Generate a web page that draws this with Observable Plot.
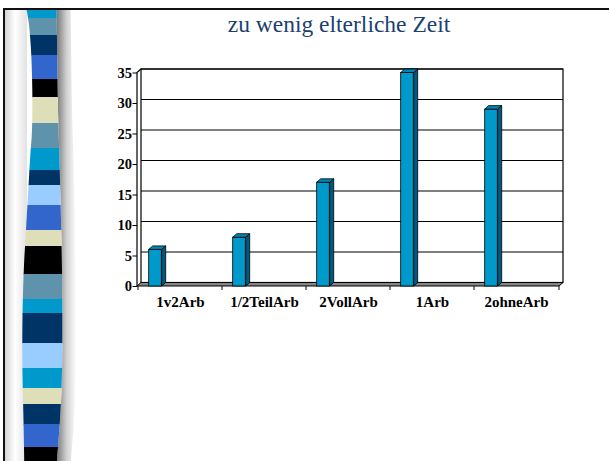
<!DOCTYPE html>
<html>
<head>
<meta charset="utf-8">
<script src="https://cdn.jsdelivr.net/npm/d3@7"></script>
<script src="https://cdn.jsdelivr.net/npm/@observablehq/plot@0.6"></script>
<style>
  html, body { margin: 0; padding: 0; background: #fff; overflow: hidden; width: 609px; height: 461px; }
  #slide { position: relative; width: 609px; height: 461px; overflow: hidden; background: #fff; }
  #frame { position: absolute; left: 3px; top: 8px; width: 640px; height: 480px; border-left: 2px solid #111; border-top: 2px solid #111; }
  #deco { position: absolute; left: 0; top: 0; }
  #chart { position: absolute; left: 0; top: 0; width: 609px; height: 461px; overflow: hidden; }
  #chart svg { display: block; background: transparent; }
  #title { position: absolute; left: 139px; width: 400px; top: 13.3px; text-align: center;
           font-family: 'Liberation Serif', 'Times New Roman', serif; font-size: 23.5px; line-height: 1;
           color: #1b3f70; white-space: nowrap; }
  #cover { position: absolute; left: 598px; top: 11px; width: 20px; height: 470px; background: #fff; }
</style>
</head>
<body>
<div id="slide">
  <div id="frame"></div>
  <svg id="deco" width="80" height="461"></svg>
  <div id="chart"></div>
  <div id="title">zu wenig elterliche Zeit</div>
  <div id="cover"></div>
</div>
<script>
// ---- chart data ----
const categories = ["1v2Arb", "1/2TeilArb", "2VollArb", "1Arb", "2ohneArb"];
const values = [6, 8, 17, 35, 29];
const yTicks = [0, 5, 10, 15, 20, 25, 30, 35];
const data = categories.map((cat, i) => ({cat, value: values[i]}));

// ---- slide decoration (left stripe) ----
const stripeColors = ["#0099cc", "#5f93ab", "#003366", "#3366cc", "#000000", "#dedeb8", "#5f93ab", "#0099cc",
  "#003366", "#99ccff", "#3366cc", "#dedeb8", "#000000", "#5f93ab", "#0099cc", "#003366", "#99ccff",
  "#0099cc", "#dedeb8", "#003366", "#3366cc", "#000000"];
const stripeBreaks = [10, 18, 35, 55, 79, 97, 123, 148, 170, 185, 205, 230, 246, 274, 299, 313, 343, 368, 388, 404, 424, 447, 461];
const stripeLeft = [[26.7,10],[29,25],[31,50],[32.3,90],[32,130],[30,160],[28,195],[26,230],[24,265],[22.7,305],[22.3,350],[22.7,385],[23.5,420],[24.3,461]];
const stripeRight = [[56.7,10],[57.3,60],[58,110],[59.5,160],[60.5,200],[61.5,240],[62.3,300],[62.3,350],[61.5,390],[60,420],[57,461]];

(function drawDeco() {
  const svg = d3.select("#deco");
  const defs = svg.append("defs");
  const lg = defs.append("linearGradient").attr("id", "lshade").attr("x1", 0).attr("x2", 1);
  lg.append("stop").attr("offset", 0).attr("stop-color", "#d4d4d4");
  lg.append("stop").attr("offset", 0.45).attr("stop-color", "#ffffff");
  lg.append("stop").attr("offset", 1).attr("stop-color", "#e2e2e2");
  const rg = defs.append("linearGradient").attr("id", "rshade").attr("x1", 0).attr("x2", 1);
  rg.append("stop").attr("offset", 0).attr("stop-color", "#7a7a7a");
  rg.append("stop").attr("offset", 0.5).attr("stop-color", "#d0d0d0");
  rg.append("stop").attr("offset", 1).attr("stop-color", "#ffffff");
  const line = d3.line().curve(d3.curveCatmullRom);
  const shape = line(stripeLeft) + "L" + line(stripeRight.slice().reverse()).slice(1) + "Z";
  const shadowR = line(stripeRight) + "L" + line(stripeRight.map(([x, y]) => [x + 14, y]).reverse()).slice(1) + "Z";
  svg.append("rect").attr("x", 5).attr("y", 10).attr("width", 22).attr("height", 451).attr("fill", "url(#lshade)");
  svg.append("path").attr("d", shadowR).attr("fill", "url(#rshade)");
  defs.append("clipPath").attr("id", "sclip").append("path").attr("d", shape);
  const g = svg.append("g").attr("clip-path", "url(#sclip)");
  stripeColors.forEach((c, i) => {
    g.append("rect").attr("x", 15).attr("width", 55)
      .attr("y", stripeBreaks[i]).attr("height", stripeBreaks[i + 1] - stripeBreaks[i] + 0.5).attr("fill", c);
  });
})();

// ---- chart ----
const W = 609, H = 461, ML = 137, MR = 50, MT = 72.5, MB = 175;
const DX = 4, DY = -3.5;
const bw = (W - ML - MR) / categories.length;
const barOffset = 10.7, barW = 13;
const font = "'Liberation Serif', 'Times New Roman', serif";

function chartBox(index, scales, vals, dims) {
  const {x, y} = scales;
  const x0 = dims.marginLeft, x1 = dims.width - dims.marginRight;
  const yb = y(0), yt = y(d3.max(yTicks));
  const g = d3.create("svg:g");
  g.append("rect").attr("x", x0 + DX).attr("y", yt + DY).attr("width", x1 - x0).attr("height", yb - yt)
    .attr("fill", "#fff").attr("stroke", "#000").attr("stroke-width", 1.2);
  yTicks.filter(t => t > 0).forEach(t => {
    g.append("line").attr("x1", x0 + DX).attr("x2", x1 + DX).attr("y1", y(t) + DY).attr("y2", y(t) + DY)
      .attr("stroke", "#000").attr("stroke-width", 1.2);
  });
  g.append("polygon").attr("points", [[x0, yb], [x1, yb], [x1 + DX, yb + DY], [x0 + DX, yb + DY]].join(" "))
    .attr("fill", "#858585").attr("stroke", "#000").attr("stroke-width", 1);
  g.append("path").attr("d", `M${x0},${yb}V${yt}L${x0 + DX},${yt + DY}`).attr("fill", "none")
    .attr("stroke", "#000").attr("stroke-width", 1.2);
  const bounds = categories.map(c => x(c)).concat([x1]);
  bounds.forEach(bx => {
    g.append("line").attr("x1", bx).attr("x2", bx).attr("y1", yb).attr("y2", yb + 4).attr("stroke", "#000");
  });
  return g.node();
}

function barFaces(index, scales) {
  const {x, y} = scales;
  const g = d3.create("svg:g").attr("stroke", "#000").attr("stroke-width", 0.8).attr("stroke-linejoin", "round");
  data.forEach(d => {
    const xl = x(d.cat) + barOffset, xr = xl + barW, yt = y(d.value), yb = y(0);
    g.append("polygon").attr("points", [[xr, yt], [xr + DX, yt + DY], [xr + DX, yb + DY], [xr, yb]].join(" "))
      .attr("fill", "#005a80");
    g.append("polygon").attr("points", [[xl, yt], [xl + DX, yt + DY], [xr + DX, yt + DY], [xr, yt]].join(" "))
      .attr("fill", "#0085b5");
  });
  return g.node();
}

const plot = Plot.plot({
  width: W, height: H,
  marginLeft: ML, marginRight: MR, marginTop: MT, marginBottom: MB,
  style: {background: "transparent", fontFamily: font, fontSize: "14px", fontWeight: "bold", color: "#000"},
  x: {domain: categories, padding: 0},
  y: {domain: [0, d3.max(yTicks)]},
  marks: [
    chartBox,
    Plot.barY(data, {x: "cat", y: "value", fill: "#0099cc", stroke: "#000", strokeWidth: 0.8,
      insetLeft: barOffset, insetRight: bw - barOffset - barW}),
    barFaces,
    Plot.axisY({ticks: yTicks, tickSize: 4.5, tickPadding: 1, fontSize: 14.5, fontWeight: "bold", fontFamily: font, label: null}),
    Plot.axisX({tickSize: 0, tickPadding: 10, fontSize: 15, fontWeight: "bold", fontFamily: font, label: null})
  ]
});
document.getElementById("chart").appendChild(plot);
</script>
</body>
</html>
